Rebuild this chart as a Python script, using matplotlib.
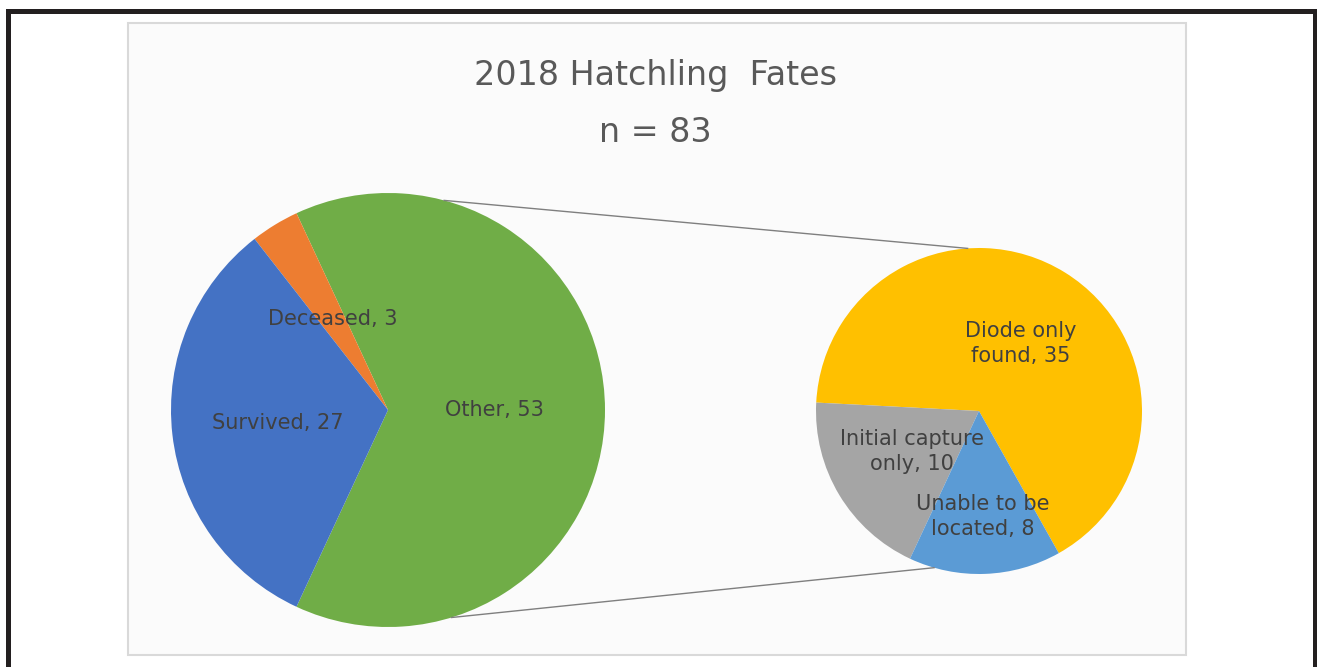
import numpy as np
import matplotlib

matplotlib.use("Agg")
import matplotlib.pyplot as plt
from matplotlib.patches import Rectangle

# data
main_labels = ["Other", "Deceased", "Survived"]
main_values = [53, 3, 27]
main_colors = ["#70ad47", "#ed7d31", "#4472c4"]

sub_labels = ["Diode only\nfound", "Initial capture\nonly", "Unable to be\nlocated"]
sub_values = [35, 10, 8]
sub_colors = ["#ffc000", "#a5a5a5", "#5b9bd5"]

TITLE = "2018 Hatchling  Fates"
SUBTITLE = "n = 83"

# layout (pixel space, y up)
W, H = 1317, 667
MAIN_C, MAIN_R = (388, H - 410), 217
SUB_C, SUB_R = (979, H - 411), 163
TEXT = "#404040"

fig = plt.figure(figsize=(W / 100, H / 100), dpi=100)
ax = fig.add_axes([0, 0, 1, 1])

# outer black frame + chart area
ax.add_patch(Rectangle((7.5, -20), W - 10, H - 10.5 + 20, fill=False,
                       edgecolor="#231f20", linewidth=3.6, zorder=0))
ax.add_patch(Rectangle((128, H - 655), 1186 - 128, 655 - 23, facecolor="#fbfbfb",
                       edgecolor="#d9d9d9", linewidth=1.5, zorder=0))

# main pie: "Other" centred on the right
main_start = -main_values[0] / sum(main_values) * 360 / 2
w_main, _ = ax.pie(main_values, colors=main_colors, startangle=main_start,
                   center=MAIN_C, radius=MAIN_R, counterclock=True,
                   wedgeprops={"linewidth": 0})

# secondary pie (breakdown of "Other")
w_sub, _ = ax.pie(sub_values, colors=sub_colors, startangle=-60.7,
                  center=SUB_C, radius=SUB_R, counterclock=True,
                  wedgeprops={"linewidth": 0})


def put_labels(wedges, names, vals, center, r, fracs):
    for w, n, v, f in zip(wedges, names, vals, fracs):
        mid = np.deg2rad((w.theta1 + w.theta2) / 2)
        x = center[0] + f * r * np.cos(mid)
        y = center[1] + f * r * np.sin(mid)
        ax.text(x, y, f"{n}, {v}", ha="center", va="center", fontsize=15,
                color=TEXT, linespacing=1.3, zorder=5)


put_labels(w_main, main_labels, main_values, MAIN_C, MAIN_R, [0.49, 0.49, 0.51])
put_labels(w_sub, sub_labels, sub_values, SUB_C, SUB_R, [0.49, 0.48, 0.65])


# connector lines
def on_circle(center, r, deg):
    a = np.deg2rad(deg)
    return center[0] + r * np.cos(a), center[1] + r * np.sin(a)


for a_main, a_sub in [(75, 94), (-73, 254)]:
    p0 = on_circle(MAIN_C, MAIN_R, a_main)
    p1 = on_circle(SUB_C, SUB_R, a_sub)
    ax.plot([p0[0], p1[0]], [p0[1], p1[1]], color="#7f7f7f", lw=1.0, zorder=1)

ax.text(655, H - 76, TITLE, ha="center", va="center", fontsize=24, color="#595959")
ax.text(655, H - 132, SUBTITLE, ha="center", va="center", fontsize=24, color="#595959")

ax.set_xlim(0, W)
ax.set_ylim(0, H)
ax.set_aspect("equal")
ax.axis("off")

fig.savefig("out.png", dpi=100, facecolor="white")
